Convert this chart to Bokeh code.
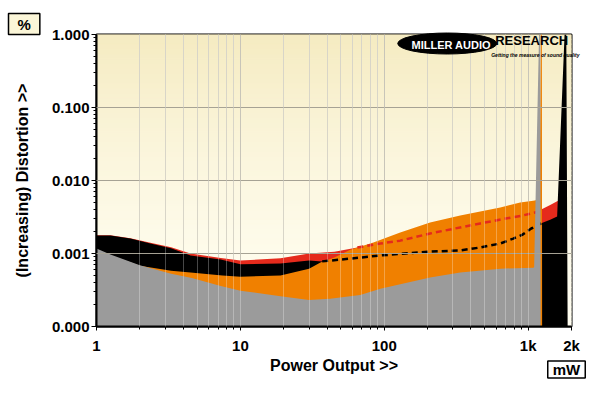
import numpy as np
from bokeh.plotting import figure
from bokeh.models import Range1d, FixedTicker, CustomJSTickFormatter, Grid, Label, ColumnDataSource
from bokeh.core.properties import value
from bokeh.embed import file_html
from bokeh.resources import INLINE

# ---------------- data ----------------
X_MIN, X_MAX = 1, 2000
Y_MIN, Y_MAX = 0.0001, 1.0

x_tick_values = [1, 10, 100, 1000, 2000]
x_tick_labels = ["1", "10", "100", "1k", "2k"]
y_tick_values = [0.0001, 0.001, 0.01, 0.1, 1.0]
y_tick_labels = ["0.000", "0.001", "0.010", "0.100", "1.000"]

# red trace (drawn first)
red_x = [1, 1.25, 1.72, 2.37, 3.3, 4.5, 7.3, 10, 19, 30, 45, 65, 94, 129, 208, 464, 787,
         908, 1083, 1155, 1232, 1422, 1589, 1700, 1720]
red_y = [0.00178, 0.00178, 0.00162, 0.0014, 0.00122, 0.001, 0.00087, 0.0008, 0.00086, 0.001,
         0.00106, 0.00121, 0.00137, 0.0015, 0.00188, 0.00258, 0.00315, 0.0033, 0.0036, 0.0037,
         0.0040, 0.0046, 0.0052, 0.0055, 0.0001]

# black trace
black_x = [1, 1.25, 1.72, 2.37, 3.3, 4.5, 7.3, 10, 19, 30, 37, 58, 94, 208, 337, 464, 640,
           787, 908, 1050, 1155, 1232, 1422, 1589, 1790, 1840, 1880]
black_y = [0.00177, 0.00177, 0.0016, 0.00137, 0.00118, 0.00094, 0.00083, 0.00071, 0.00073,
           0.0008, 0.00078, 0.00085, 0.00094, 0.00106, 0.0011, 0.00121, 0.00137, 0.0016,
           0.0018, 0.0022, 0.0024, 0.0026, 0.0029, 0.0032, 1.0, 1.0, 0.0001]

# orange trace
orange_x = [1, 2.0, 3.3, 4.5, 7.5, 10, 19, 30, 36, 45, 58, 84, 129, 208, 337, 640, 880,
            1083, 1200, 1225, 1245, 1250]
orange_y = [0.0011, 0.00068, 0.00058, 0.00055, 0.0005, 0.00048, 0.0005, 0.00062, 0.00075,
            0.00088, 0.00113, 0.00142, 0.00194, 0.00266, 0.00332, 0.00427, 0.0050, 0.0053,
            0.0055, 1.0, 1.0, 0.0001]

# grey trace
grey_x = [1, 1.25, 2.0, 3.3, 4.6, 7.3, 10, 19, 30, 42, 68, 94, 208, 337, 640, 1083, 1100,
          1190, 1215, 1220]
grey_y = [0.00117, 0.00097, 0.00069, 0.00053, 0.00046, 0.00036, 0.00031, 0.00026, 0.00023,
          0.00024, 0.00027, 0.00033, 0.00047, 0.00055, 0.00062, 0.00064, 0.00065, 1.0, 1.0,
          0.0001]

# dashed continuation ranges (hidden parts of red / black traces)
red_dash_range = (65, 1155)
black_dash_range = (37, 1232)

RED = "#e52a1c"
BLACK = "#000000"
ORANGE = "#f08000"
GREY = "#9b9b9b"
FONT = "Liberation Sans"

# frame placement on the page (px) used for decorations
F_LEFT, F_TOP, F_BOTTOM, DEC_X, DEC_Y = 96, 34, 326, 144, 73
CANVAS_H = 393


def px_to_data(px, py):
    return 10 ** ((px - F_LEFT) / DEC_X), 10 ** (-(py - F_TOP) / DEC_Y)


p = figure(width=600, height=CANVAS_H, x_axis_type="log", y_axis_type="log",
           x_range=Range1d(X_MIN, X_MAX), y_range=Range1d(Y_MIN, Y_MAX),
           output_backend="svg", toolbar_location=None,
           min_border_left=96, min_border_right=29, min_border_top=34, min_border_bottom=67)
p.background_fill_color = "#fffdf0"
p.border_fill_color = "white"
p.outline_line_color = "black"
p.outline_line_width = 2

# "%" unit box as the title
p.title.text = "%"
p.title.align = "left"
p.title.offset = -88
p.title.standoff = 0
p.title.text_font = FONT
p.title.text_font_style = "bold"
p.title.text_font_size = "15px"
p.title.text_color = "black"
p.title.background_fill_color = "#fbf6d8"
p.title.border_line_color = "black"
p.title.border_line_width = 1.5
p.title.padding = dict(left=9, right=9, top=2, bottom=2)

# background gradient
n = 60
edges = np.linspace(np.log10(Y_MIN), np.log10(Y_MAX), n + 1)
top_c = np.array([245, 235, 193])
bot_c = np.array([255, 253, 240])
cols = []
for i in range(n):
    t = ((i + 0.5) / n) ** 1.6
    c = bot_c + (top_c - bot_c) * t
    cols.append("#%02x%02x%02x" % tuple(int(round(v)) for v in c))
bg = ColumnDataSource(dict(left=[X_MIN] * n, right=[X_MAX] * n,
                           bottom=10 ** edges[:-1], top=10 ** edges[1:], c=cols))
p.quad(left="left", right="right", bottom="bottom", top="top", fill_color="c",
       line_color="c", line_width=1, source=bg, level="image")

# tickers
x_minor = [m * 10 ** k for k in range(0, 4) for m in range(2, 10) if m * 10 ** k < X_MAX]
y_minor = [m * 10.0 ** k for k in range(-4, 0) for m in range(2, 10)]
xticker = FixedTicker(ticks=x_tick_values, minor_ticks=x_minor)
yticker = FixedTicker(ticks=y_tick_values, minor_ticks=y_minor)

fmt_code = """
let best = 0; let bd = Infinity;
for (let i = 0; i < vals.length; i++) {
  const d = Math.abs(Math.log(tick) - Math.log(vals[i]));
  if (d < bd) { bd = d; best = i; }
}
return labels[best];
"""
p.xaxis.ticker = xticker
p.yaxis.ticker = yticker
p.xaxis.formatter = CustomJSTickFormatter(args=dict(vals=x_tick_values, labels=x_tick_labels), code=fmt_code)
p.yaxis.formatter = CustomJSTickFormatter(args=dict(vals=y_tick_values, labels=y_tick_labels), code=fmt_code)

for ax in (p.xaxis[0], p.yaxis[0]):
    ax.axis_line_color = "black"
    ax.axis_line_width = 2
    ax.major_tick_in = 0
    ax.minor_tick_in = 0
    ax.major_tick_out = 5
    ax.minor_tick_out = 3
    ax.major_tick_line_color = "black"
    ax.minor_tick_line_color = "black"
    ax.major_tick_line_width = 1
    ax.major_label_text_font = FONT
    ax.major_label_text_font_style = "bold"
    ax.major_label_text_font_size = "15px"
    ax.major_label_text_color = "black"
    ax.axis_label_text_font = FONT
    ax.axis_label_text_font_style = "bold"
    ax.axis_label_text_font_size = "16px"
    ax.axis_label_text_color = "black"

p.xaxis.axis_label = "Power Output >>"
p.yaxis.axis_label = "(Increasing) Distortion >>"
p.xaxis.major_tick_out = 4
p.xaxis.major_label_standoff = 6
p.xaxis.axis_label_standoff = 0
p.yaxis.major_label_standoff = 2
p.yaxis.axis_label_standoff = 18

# grids
p.xgrid.ticker = xticker
p.xgrid.grid_line_color = "#b3af9e"
p.xgrid.minor_grid_line_color = "#c9c5b3"
p.xgrid.level = "underlay"
p.ygrid.ticker = yticker
p.ygrid.grid_line_color = "#a6a294"
p.ygrid.level = "guide"

p.add_layout(Grid(dimension=0, ticker=xticker, grid_line_color="white", grid_line_alpha=0.28,
                  minor_grid_line_color="white", minor_grid_line_alpha=0.28, level="guide"))

# filled traces
p.varea(x=red_x, y1=Y_MIN, y2=red_y, fill_color=RED)
p.varea(x=black_x, y1=Y_MIN, y2=black_y, fill_color=BLACK)
p.varea(x=orange_x, y1=Y_MIN, y2=orange_y, fill_color=ORANGE)

rdx = [x for x in red_x if red_dash_range[0] <= x <= red_dash_range[1]]
rdy = [y for x, y in zip(red_x, red_y) if red_dash_range[0] <= x <= red_dash_range[1]]
bdx = [x for x in black_x if black_dash_range[0] <= x <= black_dash_range[1]]
bdy = [y for x, y in zip(black_x, black_y) if black_dash_range[0] <= x <= black_dash_range[1]]
p.line(rdx, rdy, line_color=RED, line_width=2.5, line_dash="6 4")
p.line(bdx, bdy, line_color=BLACK, line_width=2.5, line_dash="6 4")

p.varea(x=grey_x, y1=Y_MIN, y2=grey_y, fill_color=GREY)

# logo
ex, ey = px_to_data(447, 43)
p.ellipse(x=[ex], y=[ey], width=99, height=21, width_units="screen", height_units="screen",
          fill_color="black", line_color="black", level="annotation")
mx, my = px_to_data(451, 44)
p.text(x=[mx], y=[my], text=["MILLER AUDIO"], text_color="white", text_font=value(FONT),
       text_font_style="bold", text_font_size="11px", text_align="center",
       text_baseline="middle", level="annotation")
rx, ry = px_to_data(495, 40)
p.text(x=[rx], y=[ry], text=["RESEARCH"], text_color="black", text_font=value(FONT),
       text_font_style="bold", text_font_size="13px", text_align="left",
       text_baseline="middle", level="annotation")
sx, sy = px_to_data(491, 54)
p.text(x=[sx], y=[sy], text=["Getting the measure of sound quality"], text_color="black",
       text_font=value(FONT), text_font_style="bold italic", text_font_size="5px",
       text_align="left", text_baseline="middle", level="annotation")

# "mW" unit box in the bottom panel
p.add_layout(Label(x=566 - F_LEFT, y=CANVAS_H - 369, x_units="screen", y_units="screen",
                   text="mW", text_font=FONT, text_font_style="bold", text_color="black",
                   text_font_size="15px", text_align="center", text_baseline="middle",
                   background_fill_color="white", border_line_color="black",
                   border_line_width=1.5, padding=dict(left=5, right=5, top=0, bottom=0)),
             "below")

open("out.html", "w").write(file_html(p, INLINE))
